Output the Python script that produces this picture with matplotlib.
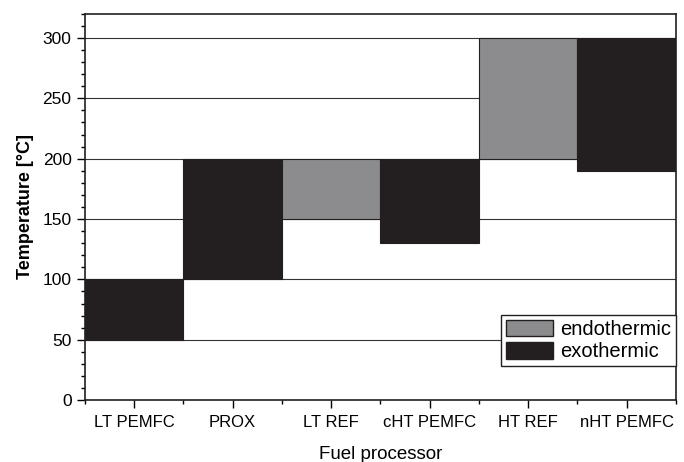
import matplotlib.pyplot as plt
from matplotlib.patches import Patch
from matplotlib.ticker import MultipleLocator

plt.rcParams['font.family'] = ['Liberation Sans', 'DejaVu Sans']

categories = ['LT PEMFC', 'PROX', 'LT REF', 'cHT PEMFC', 'HT REF', 'nHT PEMFC']
t_low = [50, 100, 150, 130, 200, 190]
t_high = [100, 200, 200, 200, 300, 300]
kind = ['exo', 'exo', 'endo', 'exo', 'endo', 'exo']

colors = {'endo': '#8c8c8e', 'exo': '#231f20'}

fig = plt.figure(figsize=(6.84, 4.62), dpi=100)
ax = fig.add_axes([0.124, 0.134, 0.864, 0.836])

x = range(len(categories))
heights = [h - l for l, h in zip(t_low, t_high)]
ax.bar(x, heights, bottom=t_low, width=1.0,
       color=[colors[k] for k in kind], edgecolor='#231f20', linewidth=0.8, zorder=3)

ax.set_xlim(-0.5, len(categories) - 0.5)
ax.set_ylim(0, 320)
ax.set_xticks(list(x))
ax.set_xticklabels(categories, fontsize=12)
ax.xaxis.set_minor_locator(MultipleLocator(1, offset=0.5))
ax.yaxis.set_major_locator(MultipleLocator(50))
ax.yaxis.set_minor_locator(MultipleLocator(10))
ax.tick_params(axis='both', which='major', direction='out', length=6, width=1, labelsize=12.5)
ax.tick_params(axis='x', which='major', labelsize=12, pad=5)
ax.tick_params(axis='both', which='minor', direction='out', length=3, width=1)
ax.grid(axis='y', which='major', color='#333333', linewidth=0.8, zorder=0)
ax.set_axisbelow(True)
for s in ax.spines.values():
    s.set_linewidth(1.2)
    s.set_color('#231f20')

ax.set_ylabel('Temperature [°C]', fontsize=13, fontweight='bold', labelpad=6)
ax.set_xlabel('Fuel processor', fontsize=13.5, labelpad=11)

handles = [Patch(facecolor=colors['endo'], edgecolor='#231f20', label='endothermic'),
           Patch(facecolor=colors['exo'], edgecolor='#231f20', label='exothermic')]
ax.legend(handles=handles, loc='lower right', bbox_to_anchor=(1.0, 0.0875),
          fontsize=14.5, frameon=True, fancybox=False, edgecolor='#231f20',
          framealpha=1, borderpad=0.25, handlelength=2.3, handleheight=0.9,
          labelspacing=0.15, handletextpad=0.35, borderaxespad=0.0)

fig.savefig('out.png', dpi=100)
